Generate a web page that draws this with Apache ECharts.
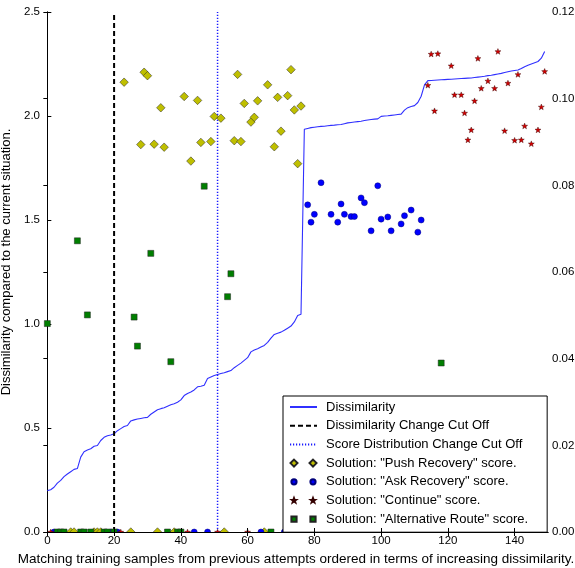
<!DOCTYPE html>
<html>
<head>
<meta charset="utf-8">
<script src="https://cdn.jsdelivr.net/npm/echarts@6/dist/echarts.min.js"></script>
<style>
  html, body { margin: 0; padding: 0; background: #fff; }
  #chart { width: 575px; height: 568px; }
</style>
</head>
<body>
<div id="chart"></div>
<script>
// dissimilarity of each matching sample, index = position on x axis
var dissim = [
  0.199, 0.203, 0.215, 0.235, 0.248, 0.266, 0.279, 0.290, 0.301, 0.305,
  0.360, 0.386, 0.394, 0.400, 0.412, 0.416, 0.440, 0.455, 0.463, 0.466,
  0.472, 0.487, 0.497, 0.507, 0.512, 0.534, 0.539, 0.543, 0.546, 0.549,
  0.551, 0.566, 0.577, 0.588, 0.593, 0.597, 0.605, 0.612, 0.617, 0.624,
  0.635, 0.656, 0.666, 0.673, 0.683, 0.698, 0.701, 0.706, 0.738, 0.745,
  0.752, 0.757, 0.762, 0.766, 0.771, 0.776, 0.790, 0.801, 0.812, 0.825,
  0.838, 0.866, 0.875, 0.881, 0.889, 0.897, 0.912, 0.932, 0.950, 0.956,
  0.961, 0.970, 0.980, 0.990, 1.010, 1.041, 1.047, 1.936, 1.940, 1.944,
  1.946, 1.948, 1.950, 1.951, 1.953, 1.955, 1.956, 1.958, 1.959, 1.963,
  1.967, 1.969, 1.971, 1.973, 1.975, 1.978, 1.981, 1.983, 1.985, 1.986,
  1.998, 2.000, 2.001, 2.003, 2.005, 2.007, 2.009, 2.028, 2.040, 2.046,
  2.050, 2.065, 2.095, 2.150, 2.170, 2.171, 2.172, 2.173, 2.174, 2.175,
  2.176, 2.177, 2.178, 2.179, 2.180, 2.181, 2.182, 2.183, 2.185, 2.187,
  2.189, 2.191, 2.194, 2.196, 2.199, 2.202, 2.205, 2.209, 2.213, 2.216,
  2.219, 2.221, 2.228, 2.237, 2.244, 2.250, 2.256, 2.262, 2.278, 2.310
];

// cut offs (sample index)
var dissimCutOff = 20;
var scoreCutOff = 51;

// scores per solution (right axis)
var pushX = [7, 8, 14, 15, 16, 23, 25, 28, 29, 30, 32, 33, 34, 35, 38, 41, 43, 45, 46, 49,
  50, 52, 53, 56, 57, 58, 59, 61, 62, 63, 65, 66, 68, 69, 70, 72, 73, 74, 75, 76];
var pushScore = [0, 0, 0, 0, 0, 0.1038, 0, 0.0894, 0.1061, 0.1053, 0.0895, 0, 0.0979, 0.0888, 0, 0.1005, 0.0856, 0.0996, 0.0899, 0.0901,
  0.0959, 0.0955, 0, 0.0903, 0.1056, 0.0901, 0.0989, 0.0946, 0.0957, 0.0995, 0, 0.1032, 0.0889, 0.1003, 0.0925, 0.1007, 0.1067, 0.0974, 0.0850, 0.0983];

var askX = [2, 19, 21, 44, 48, 64, 71, 78, 79, 80, 82, 85, 87, 88, 89, 91, 92, 94, 95, 97,
  99, 100, 102, 103, 106, 107, 109, 111, 112];
var askScore = [0, 0, 0, 0, 0, 0, 0, 0.0755, 0.0715, 0.0733, 0.0806, 0.0733, 0.0715, 0.0757, 0.0733, 0.0728, 0.0728, 0.0771, 0.0760, 0.0695,
  0.0799, 0.0722, 0.0727, 0.0695, 0.0711, 0.0730, 0.0743, 0.0692, 0.0720];

var continueX = [1, 22, 42, 51, 60, 114, 115, 116, 117, 121, 122, 124, 125, 126, 127, 128, 129, 130, 132, 134,
  135, 137, 138, 140, 141, 142, 143, 145, 147, 148, 149];
var continueScore = [0, 0, 0, 0, 0, 0.1031, 0.1103, 0.0972, 0.1104, 0.1076, 0.1009, 0.1009, 0.0967, 0.0905, 0.0928, 0.0995, 0.1093, 0.1024, 0.1041, 0.1024,
  0.1109, 0.0926, 0.1036, 0.0904, 0.1056, 0.0905, 0.0937, 0.0896, 0.0928, 0.0981, 0.1063];

var altX = [0, 3, 4, 5, 9, 10, 11, 12, 13, 17, 18, 20, 26, 27, 31, 36, 37, 39, 40, 47, 54, 55, 67, 118];
var altScore = [0.0481, 0, 0, 0, 0.0672, 0, 0, 0.0501, 0, 0, 0, 0, 0.0496, 0.0429, 0.0643, 0, 0.0393, 0, 0, 0.0798, 0.0543, 0.0596, 0, 0.0390];

var xTicks = [0, 20, 40, 60, 80, 100, 120, 140];

var W = 575, H = 568;
var GRID = { left: 44, right: 27, top: 12, bottom: 36 };
var FONT = '"Liberation Sans", Arial, sans-serif';

function pairs(xs, ys) {
    return xs.map(function (x, i) { return [x, ys[i]]; });
}

// marker shapes
function starPts(cx, cy, r) {
    var d = '';
    for (var k = 0; k < 10; k++) {
        var a = -Math.PI / 2 + k * Math.PI / 5;
        var rr = k % 2 ? r * 0.42 : r;
        d += (k ? 'L' : 'M') + (cx + rr * Math.cos(a)).toFixed(2) + ',' + (cy + rr * Math.sin(a)).toFixed(2);
    }
    return d + 'Z';
}
function diamondPts(cx, cy, r) {
    return 'M' + cx + ',' + (cy - r) + 'L' + (cx + r) + ',' + cy + 'L' + cx + ',' + (cy + r) + 'L' + (cx - r) + ',' + cy + 'Z';
}
function circlePts(cx, cy, r) {
    return 'M' + (cx - r) + ',' + cy + 'A' + r + ',' + r + ' 0 1,0 ' + (cx + r) + ',' + cy +
        'A' + r + ',' + r + ' 0 1,0 ' + (cx - r) + ',' + cy + 'Z';
}
function squarePts(cx, cy, r) {
    return 'M' + (cx - r) + ',' + (cy - r) + 'L' + (cx + r) + ',' + (cy - r) + 'L' + (cx + r) + ',' + (cy + r) + 'L' + (cx - r) + ',' + (cy + r) + 'Z';
}
// legend icon: two markers, like matplotlib numpoints=2
var IW = 27, IH = 8;
function twin(fn, r) {
    return 'path://M0,0M' + IW + ',' + IH + fn(4, 4, r) + fn(IW - 4, 4, r);
}
var starSymbol = 'path://' + starPts(0, 0, 1);

var chart = echarts.init(document.getElementById('chart'), null, { renderer: 'canvas' });

var axisLineStyle = { color: '#000', width: 1 };
function ticks(extra) {
    return Object.assign({ show: true, inside: true, length: 4, lineStyle: { color: '#000', width: 1 } }, extra || {});
}

var option = {
    backgroundColor: '#fff',
    animation: false,
    textStyle: { fontFamily: FONT },
    grid: {
        left: GRID.left, right: GRID.right, top: GRID.top, bottom: GRID.bottom,
        containLabel: false, outerBoundsMode: 'none'
    },
    legend: {
        orient: 'vertical',
        left: 283, top: 396,
        padding: [4, 19, 6, 6],
        itemGap: 4.7,
        itemWidth: IW, itemHeight: IH,
        backgroundColor: '#fff',
        borderColor: '#000', borderWidth: 1, borderRadius: 0,
        selectedMode: false,
        textStyle: { fontSize: 13, lineHeight: 14, color: '#000', fontFamily: FONT, padding: [0, 0, 0, 4] },
        data: [
            { name: 'Dissimilarity', itemStyle: { opacity: 0 } },
            { name: 'Dissimilarity Change Cut Off', itemStyle: { opacity: 0 } },
            { name: 'Score Distribution Change Cut Off', itemStyle: { opacity: 0 } },
            { name: 'Solution: "Push Recovery" score.', icon: twin(diamondPts, 3.5) },
            { name: 'Solution: "Ask Recovery" score.', icon: twin(circlePts, 2.6) },
            { name: 'Solution: "Continue" score.', icon: twin(starPts, 2.3) },
            { name: 'Solution: "Alternative Route" score.', icon: twin(squarePts, 2.6) }
        ]
    },
    xAxis: [{
        type: 'value', position: 'bottom', min: -1, max: 150, z: 5,
        name: 'Matching training samples from previous attempts ordered in terms of increasing dissimilarity.',
        nameLocation: 'middle', nameGap: 16,
        nameTextStyle: { fontSize: 13.5, color: '#000', fontFamily: FONT },
        axisLine: { show: true, lineStyle: axisLineStyle },
        axisTick: ticks({ customValues: xTicks }),
        axisLabel: { customValues: xTicks, fontSize: 11.5, color: '#000', margin: 3, fontFamily: FONT },
        splitLine: { show: false }
    }, {
        type: 'value', position: 'top', min: -1, max: 150, z: 5,
        axisLine: { show: true, lineStyle: axisLineStyle },
        axisTick: ticks({ customValues: xTicks }),
        axisLabel: { show: false, customValues: xTicks },
        splitLine: { show: false }
    }],
    yAxis: [{
        type: 'value', position: 'left', min: 0, max: 2.5, interval: 0.5,
        name: 'Dissimilarity compared to the current situation.',
        nameLocation: 'middle', nameGap: 23,
        nameTextStyle: { fontSize: 13, color: '#000', fontFamily: FONT, padding: [0, 0, 0, 20] },
        axisLine: { show: true, lineStyle: axisLineStyle },
        axisTick: ticks(),
        axisLabel: { fontSize: 11.5, color: '#000', margin: 4, fontFamily: FONT,
            formatter: function (v) { return v.toFixed(1); } },
        splitLine: { show: false }
    }, {
        type: 'value', position: 'right', min: 0, max: 0.12, interval: 0.02,
        axisLine: { show: true, lineStyle: axisLineStyle },
        axisTick: ticks(),
        axisLabel: { fontSize: 11.5, color: '#000', margin: 4, fontFamily: FONT,
            formatter: function (v) { return v.toFixed(2); } },
        splitLine: { show: false }
    }],
    graphic: [{
        // hides the lower half of markers sitting on the x axis (matplotlib clipping)
        type: 'rect', z: 3, silent: true,
        shape: { x: GRID.left + 1, y: H - GRID.bottom + 0.5, width: W - GRID.left - GRID.right - 2, height: 7 },
        style: { fill: '#fff' }
    }],
    series: [{
        name: 'Dissimilarity',
        type: 'line',
        data: dissim.map(function (v, i) { return [i, v]; }),
        showSymbol: false, symbol: 'none',
        lineStyle: { color: '#3030ff', width: 1.1 },
        itemStyle: { color: '#3030ff' },
        z: 1
    }, {
        name: 'Dissimilarity Change Cut Off',
        type: 'line',
        data: [[dissimCutOff, 0], [dissimCutOff, 2.5]],
        showSymbol: false, symbol: 'none',
        lineStyle: { color: '#000', width: 2, type: [5, 3] },
        itemStyle: { color: '#000' },
        z: 1
    }, {
        name: 'Score Distribution Change Cut Off',
        type: 'line',
        data: [[scoreCutOff, 0], [scoreCutOff, 2.5]],
        showSymbol: false, symbol: 'none',
        lineStyle: { color: '#1a1aff', width: 1.5, type: [1.2, 1.8] },
        itemStyle: { color: '#1a1aff' },
        z: 1
    }, {
        name: 'Solution: "Push Recovery" score.',
        type: 'scatter', yAxisIndex: 1,
        data: pairs(pushX, pushScore),
        symbol: 'diamond', symbolSize: 8.5,
        itemStyle: { color: '#bfbf00', borderColor: '#222', borderWidth: 0.5, opacity: 1 }
    }, {
        name: 'Solution: "Ask Recovery" score.',
        type: 'scatter', yAxisIndex: 1,
        data: pairs(askX, askScore),
        symbol: 'circle', symbolSize: 6,
        itemStyle: { color: '#0000ff', borderColor: '#00007a', borderWidth: 0.5, opacity: 1 }
    }, {
        name: 'Solution: "Continue" score.',
        type: 'scatter', yAxisIndex: 1,
        data: pairs(continueX, continueScore),
        symbol: starSymbol, symbolSize: 6, symbolKeepAspect: true,
        itemStyle: { color: '#d00000', borderColor: '#300', borderWidth: 0.4, opacity: 1 }
    }, {
        name: 'Solution: "Alternative Route" score.',
        type: 'scatter', yAxisIndex: 1,
        data: pairs(altX, altScore),
        symbol: 'rect', symbolSize: 6,
        itemStyle: { color: '#007f00', borderColor: '#222', borderWidth: 0.5, opacity: 1 }
    }]
};

chart.setOption(option);
</script>
</body>
</html>
